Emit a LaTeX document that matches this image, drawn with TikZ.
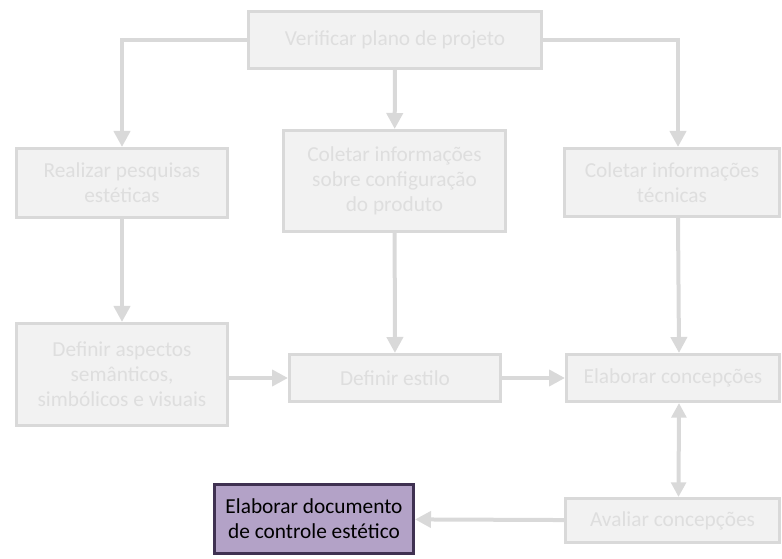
\documentclass[tikz,border=0pt]{standalone}
\usepackage{fontspec}
\setmainfont{Carlito}
\usetikzlibrary{arrows.meta,positioning}
\definecolor{boxfill}{RGB}{242,242,242}
\definecolor{boxline}{RGB}{217,217,217}
\definecolor{boxtext}{RGB}{222,222,222}
\definecolor{docfill}{RGB}{179,162,199}
\definecolor{docline}{RGB}{63,49,81}
\begin{document}
\begin{tikzpicture}[
  x=0.75pt, y=-0.75pt,
  process/.style={rectangle, draw=boxline, fill=boxfill,
    line width=2.25pt, text=boxtext, align=center,
    minimum width=158.25pt, inner sep=0pt,
    font=\fontsize{16}{18.75}\selectfont},
  result/.style={process, draw=docline, fill=docfill, text=black},
  arrow/.style={-{Triangle[length=12pt,width=12pt]}, line width=3pt, color=boxline},
  twoway/.style={arrow, {Triangle[length=11pt,width=11pt]}-{Triangle[length=11pt,width=11pt]}}
]
\useasboundingbox (0,0) rectangle (782,559);

% Nodes
\node[process, minimum width=219.75pt, minimum height=42.75pt] (verif) at (395,40)
  {Verificar plano de projeto};
\node[process, minimum height=51.75pt] (pesq) at (122,183)
  {Realizar pesquisas\\estéticas};
\node[process, minimum width=166.5pt, minimum height=75.75pt] (config) at (394.5,181)
  {Coletar informações\\sobre configuração\\do produto};
\node[process, minimum width=161.25pt, minimum height=51pt] (tecn) at (672,182.5)
  {Coletar informações\\técnicas};
\node[process, minimum height=76.5pt] (aspec) at (122,374.5)
  {Definir aspectos\\semânticos,\\simbólicos e visuais};
\node[process, minimum height=35.25pt] (estilo) at (395,378)
  {Definir estilo};
\node[process, minimum width=159.75pt, minimum height=35.25pt] (concep) at (673,378)
  {Elaborar concepções};
\node[process, minimum width=160.5pt, minimum height=33pt] (avalia) at (672.5,520.5)
  {Avaliar concepções};
\node[result, minimum width=149.25pt, minimum height=51.75pt] (docum) at (314,519)
  {Elaborar documento\\de controle estético};

% Arrows
\draw[arrow] (verif.west) -| (pesq.north);
\draw[arrow] (verif.east) -| ([xshift=4.5pt]tecn.north);
\draw[arrow] (verif) -- (config);
\draw[arrow] (pesq) -- (aspec);
\draw[arrow] (config) -- (estilo);
\draw[arrow] ([xshift=4.5pt]tecn.south) -- ([xshift=4.5pt]concep.north);
\draw[arrow] (aspec.east |- estilo.west) -- (estilo.west);
\draw[arrow] (estilo) -- (concep);
\draw[twoway] ([xshift=4.5pt]concep.south) -- ([xshift=4.5pt]avalia.north);
\draw[arrow] (avalia) -- (docum);
\end{tikzpicture}
\end{document}
